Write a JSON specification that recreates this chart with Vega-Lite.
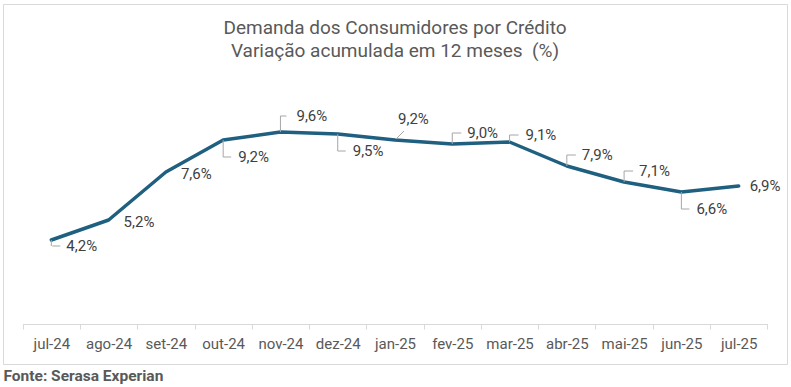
{
  "$schema": "https://vega.github.io/schema/vega-lite/v6.json",
  "width": 784,
  "height": 360,
  "autosize": {"type": "none"},
  "padding": {"left": 3, "top": 4, "right": 4, "bottom": 23},
  "background": "white",
  "config": {"font": "Roboto", "view": {"stroke": "#d9d9d9", "strokeWidth": 1}},
  "title": {
    "text": ["Demanda dos Consumidores por Crédito", "Variação acumulada em 12 meses \u00a0(%)"],
    "orient": "top",
    "anchor": "middle",
    "frame": "group",
    "offset": -31,
    "dy": 41,
    "baseline": "alphabetic",
    "fontSize": 19,
    "fontWeight": "normal",
    "color": "#595959",
    "lineHeight": 23
  },
  "data": {
    "values": [
      {"mes": "jul-24", "valor": 4.2, "rotulo": "4,2%"},
      {"mes": "ago-24", "valor": 5.2, "rotulo": "5,2%"},
      {"mes": "set-24", "valor": 7.6, "rotulo": "7,6%"},
      {"mes": "out-24", "valor": 9.2, "rotulo": "9,2%"},
      {"mes": "nov-24", "valor": 9.6, "rotulo": "9,6%"},
      {"mes": "dez-24", "valor": 9.5, "rotulo": "9,5%"},
      {"mes": "jan-25", "valor": 9.2, "rotulo": "9,2%"},
      {"mes": "fev-25", "valor": 9.0, "rotulo": "9,0%"},
      {"mes": "mar-25", "valor": 9.1, "rotulo": "9,1%"},
      {"mes": "abr-25", "valor": 7.9, "rotulo": "7,9%"},
      {"mes": "mai-25", "valor": 7.1, "rotulo": "7,1%"},
      {"mes": "jun-25", "valor": 6.6, "rotulo": "6,6%"},
      {"mes": "jul-25", "valor": 6.9, "rotulo": "6,9%"}
    ]
  },
  "encoding": {
    "x": {
      "field": "mes",
      "type": "ordinal",
      "sort": null,
      "bandPosition": 0.5,
      "scale": {"type": "band", "range": [19.7, 764.3], "paddingInner": 0, "paddingOuter": 0},
      "axis": {
        "title": "Fonte: Serasa Experian",
        "titleFontWeight": "bold",
        "titleFontSize": 15.5,
        "titleColor": "#595959",
        "titleAnchor": "start",
        "titleAlign": "left",
        "titleX": 0,
        "titleY": 56,
        "titleBaseline": "alphabetic",
        "offset": -40,
        "domainColor": "#d9d9d9",
        "tickColor": "#d9d9d9",
        "tickSize": 5,
        "tickBand": "extent",
        "labelColor": "#595959",
        "labelFontSize": 15,
        "labelPadding": 7,
        "labelAngle": 0,
        "grid": false
      }
    },
    "y": {
      "field": "valor",
      "type": "quantitative",
      "scale": {"domain": [-2, 16], "nice": false, "zero": false},
      "axis": null
    }
  },
  "layer": [
    {"mark": {"type": "line", "color": "#1F5F80", "strokeWidth": 3.5, "strokeCap": "round", "strokeJoin": "round"}},

    {"transform": [{"filter": {"field": "mes", "oneOf": ["out-24", "dez-24", "jun-25"]}}],
     "mark": {"type": "rule", "color": "#a6a6a6", "strokeWidth": 1, "y2Offset": 17},
     "encoding": {"y2": {"field": "valor"}}},
    {"transform": [{"filter": {"field": "mes", "oneOf": ["out-24", "dez-24", "jun-25"]}}],
     "mark": {"type": "rule", "color": "#a6a6a6", "strokeWidth": 1, "yOffset": 17, "x2Offset": 8},
     "encoding": {"x2": {"field": "mes"}}},
    {"transform": [{"filter": {"field": "mes", "oneOf": ["out-24", "dez-24", "jun-25"]}}],
     "mark": {"type": "text", "align": "left", "baseline": "middle", "dx": 15, "dy": 17, "fontSize": 15, "color": "#404040"},
     "encoding": {"text": {"field": "rotulo"}}},

    {"transform": [{"filter": {"field": "mes", "oneOf": ["fev-25", "abr-25", "mai-25"]}}],
     "mark": {"type": "rule", "color": "#a6a6a6", "strokeWidth": 1, "y2Offset": -11},
     "encoding": {"y2": {"field": "valor"}}},
    {"transform": [{"filter": {"field": "mes", "oneOf": ["fev-25", "abr-25", "mai-25"]}}],
     "mark": {"type": "rule", "color": "#a6a6a6", "strokeWidth": 1, "yOffset": -11, "x2Offset": 9},
     "encoding": {"x2": {"field": "mes"}}},
    {"transform": [{"filter": {"field": "mes", "oneOf": ["fev-25", "abr-25", "mai-25"]}}],
     "mark": {"type": "text", "align": "left", "baseline": "middle", "dx": 15, "dy": -11, "fontSize": 15, "color": "#404040"},
     "encoding": {"text": {"field": "rotulo"}}},

    {"transform": [{"filter": {"field": "mes", "equal": "mar-25"}}],
     "mark": {"type": "rule", "color": "#a6a6a6", "strokeWidth": 1, "y2Offset": -7},
     "encoding": {"y2": {"field": "valor"}}},
    {"transform": [{"filter": {"field": "mes", "equal": "mar-25"}}],
     "mark": {"type": "rule", "color": "#a6a6a6", "strokeWidth": 1, "yOffset": -7, "x2Offset": 9},
     "encoding": {"x2": {"field": "mes"}}},
    {"transform": [{"filter": {"field": "mes", "equal": "mar-25"}}],
     "mark": {"type": "text", "align": "left", "baseline": "middle", "dx": 16, "dy": -7, "fontSize": 15, "color": "#404040"},
     "encoding": {"text": {"field": "rotulo"}}},

    {"transform": [{"filter": {"field": "mes", "equal": "nov-24"}}],
     "mark": {"type": "rule", "color": "#a6a6a6", "strokeWidth": 1, "y2Offset": -16},
     "encoding": {"y2": {"field": "valor"}}},
    {"transform": [{"filter": {"field": "mes", "equal": "nov-24"}}],
     "mark": {"type": "rule", "color": "#a6a6a6", "strokeWidth": 1, "yOffset": -16, "x2Offset": 6},
     "encoding": {"x2": {"field": "mes"}}},
    {"transform": [{"filter": {"field": "mes", "equal": "nov-24"}}],
     "mark": {"type": "text", "align": "left", "baseline": "middle", "dx": 16, "dy": -16, "fontSize": 15, "color": "#404040"},
     "encoding": {"text": {"field": "rotulo"}}},

    {"transform": [{"filter": {"field": "mes", "equal": "jan-25"}}],
     "mark": {"type": "rule", "color": "#a6a6a6", "strokeWidth": 1, "xOffset": 1, "yOffset": -1, "x2Offset": 9, "y2Offset": -9},
     "encoding": {"x2": {"field": "mes"}, "y2": {"field": "valor"}}},
    {"transform": [{"filter": {"field": "mes", "equal": "jan-25"}}],
     "mark": {"type": "text", "align": "left", "baseline": "middle", "dx": 3, "dy": -21, "fontSize": 15, "color": "#404040"},
     "encoding": {"text": {"field": "rotulo"}}},

    {"transform": [{"filter": {"field": "mes", "equal": "jul-24"}}],
     "mark": {"type": "rule", "color": "#a6a6a6", "strokeWidth": 1, "y2Offset": 6},
     "encoding": {"y2": {"field": "valor"}}},
    {"transform": [{"filter": {"field": "mes", "equal": "jul-24"}}],
     "mark": {"type": "rule", "color": "#a6a6a6", "strokeWidth": 1, "yOffset": 6, "xOffset": 1, "x2Offset": 9},
     "encoding": {"x2": {"field": "mes"}}},
    {"transform": [{"filter": {"field": "mes", "equal": "jul-24"}}],
     "mark": {"type": "text", "align": "left", "baseline": "middle", "dx": 15, "dy": 6, "fontSize": 15, "color": "#404040"},
     "encoding": {"text": {"field": "rotulo"}}},

    {"transform": [{"filter": {"field": "mes", "oneOf": ["ago-24", "set-24"]}}],
     "mark": {"type": "text", "align": "left", "baseline": "middle", "dx": 15, "dy": 2, "fontSize": 15, "color": "#404040"},
     "encoding": {"text": {"field": "rotulo"}}},

    {"transform": [{"filter": {"field": "mes", "equal": "jul-25"}}],
     "mark": {"type": "text", "align": "left", "baseline": "middle", "dx": 11, "dy": 0, "fontSize": 15, "color": "#404040"},
     "encoding": {"text": {"field": "rotulo"}}}
  ]
}
